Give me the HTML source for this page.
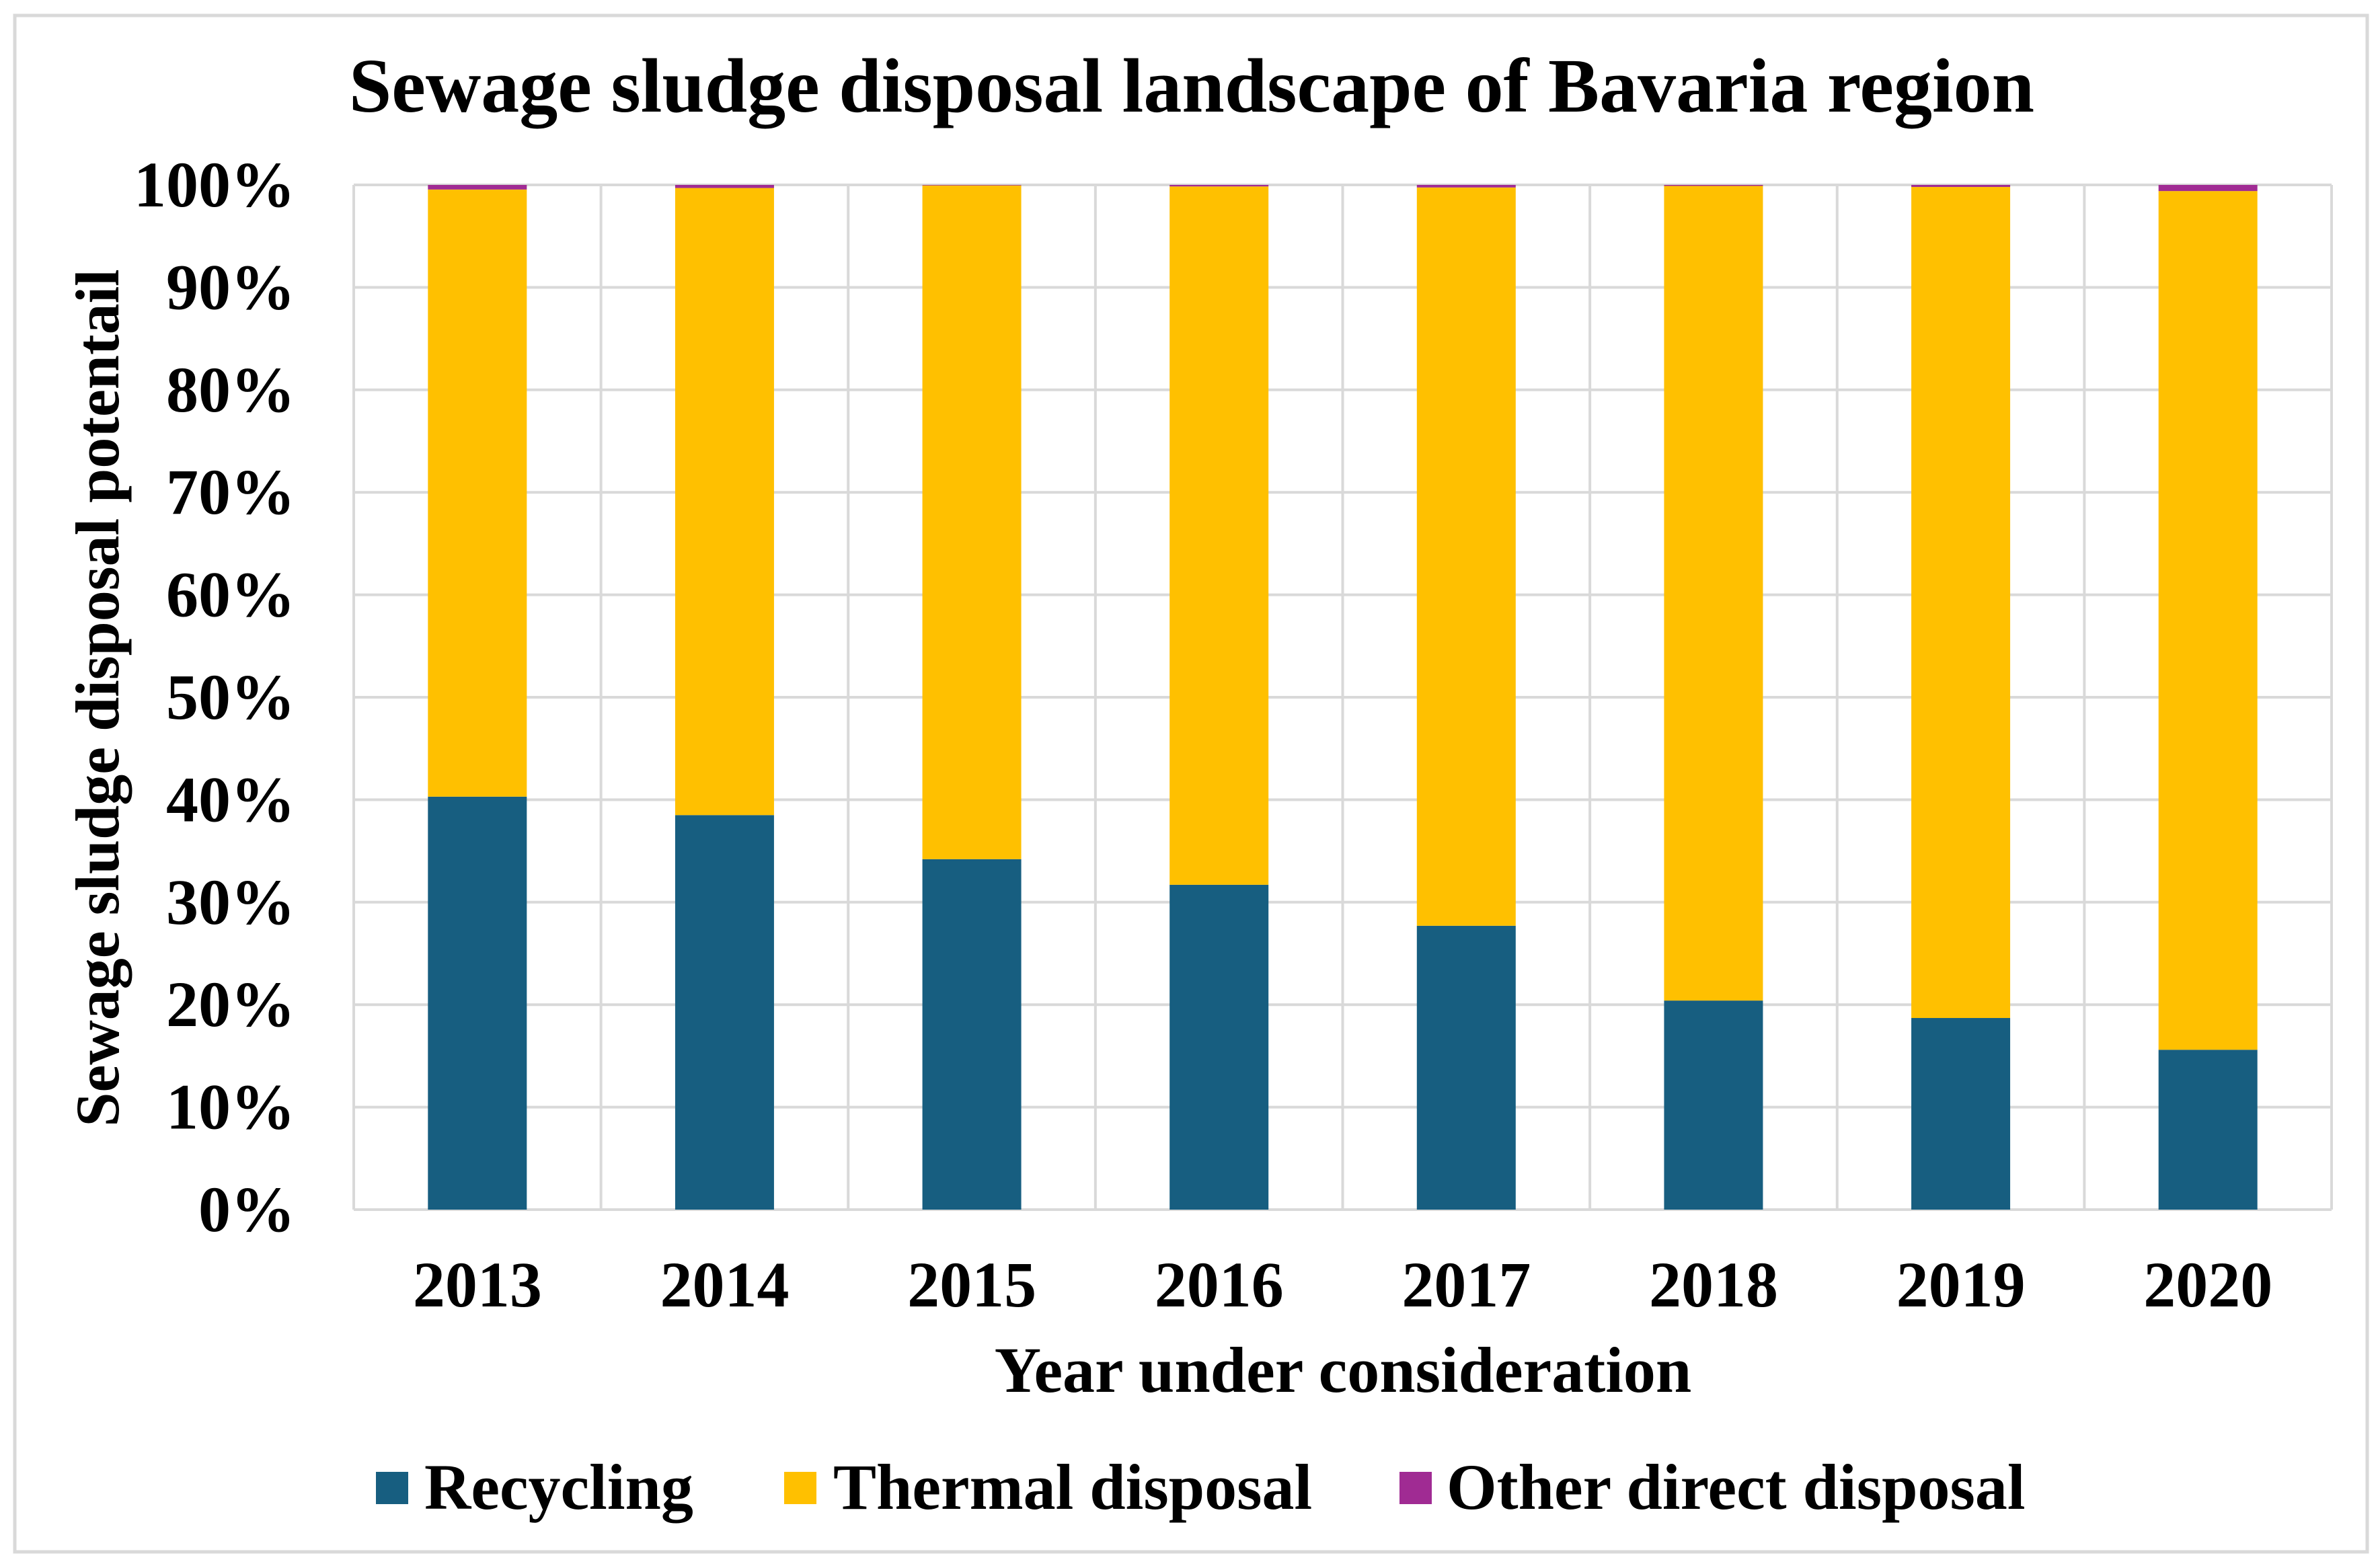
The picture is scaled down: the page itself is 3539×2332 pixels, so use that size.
<!DOCTYPE html>
<html><head><meta charset="utf-8"><style>
html,body{margin:0;padding:0;background:#fff}
svg{display:block}
text{font-family:"Liberation Serif",serif;font-weight:bold;fill:#000}
</style></head><body>
<svg id="chart" width="3539" height="2332" viewBox="0 0 3539 2332">
<rect x="22" y="23" width="3498" height="2285" fill="#fff" stroke="#d9d9d9" stroke-width="5"/>
<text x="1772" y="166" font-size="114" text-anchor="middle">Sewage sludge disposal landscape of Bavaria region</text>
<g id="grid"></g>
<g id="bars"></g>
<g id="yticks"></g>
<g id="xticks"></g>
<text x="1997" y="2070" font-size="96" text-anchor="middle">Year under consideration</text>
<text transform="translate(176,1038) rotate(-90)" font-size="92" text-anchor="middle">Sewage sludge disposal potentail</text>
<g>
<g><rect x="559" y="2189" width="48" height="48" fill="#175e80"/><text x="631" y="2244" font-size="96">Recycling</text></g>
<g><rect x="1166" y="2189" width="48" height="48" fill="#ffc000"/><text x="1239" y="2244" font-size="96">Thermal disposal</text></g>
<g><rect x="2081" y="2189" width="48" height="48" fill="#a02b93"/><text x="2151" y="2244" font-size="96">Other direct disposal</text></g>
</g>
</svg>
<script>
const categories = ["2013","2014","2015","2016","2017","2018","2019","2020"];
const recycling = [40.3,38.5,34.2,31.7,27.7,20.4,18.7,15.6];
const other = [0.45,0.3,0.05,0.15,0.25,0.1,0.2,0.6];
const yTickLabels = ["0%","10%","20%","30%","40%","50%","60%","70%","80%","90%","100%"];
const yTickValues = [0,10,20,30,40,50,60,70,80,90,100];

const NS="http://www.w3.org/2000/svg";
const L=526,R=3467,T=275,B=1799;
const band=(R-L)/categories.length, barW=147;
const y=v=>B-(v/100)*(B-T);
const xc=i=>L+band*(i+0.5);
function mk(tag,attrs,parent){const e=document.createElementNS(NS,tag);for(const k in attrs)e.setAttribute(k,attrs[k]);parent.appendChild(e);return e;}
const grid=document.getElementById('grid'),bars=document.getElementById('bars'),yt=document.getElementById('yticks'),xt=document.getElementById('xticks');
yTickValues.forEach((v,i)=>{
  const ln=mk('line',{x1:L,x2:R,y1:y(v),y2:y(v),stroke:'#d9d9d9','stroke-width':4},grid);
  
  
  const t=mk('text',{x:439,y:y(v)+32,'font-size':96,'text-anchor':'end'},yt);
  t.textContent=yTickLabels[i];
  
  
});
for(let i=0;i<=categories.length;i++){
  const ln=mk('line',{x1:L+band*i,x2:L+band*i,y1:T,y2:B,stroke:'#d9d9d9','stroke-width':4},grid);
  
  
}
categories.forEach((c,i)=>{
  const x0=xc(i)-barW/2;
  const r=recycling[i],o=other[i],th=100-r-o;
  const b1=mk('rect',{x:x0,y:y(r),width:barW,height:y(0)-y(r),fill:'#175e80'},bars);
  
  
  const b2=mk('rect',{x:x0,y:y(r+th),width:barW,height:y(r)-y(r+th),fill:'#ffc000'},bars);
  
  
  const b3=mk('rect',{x:x0,y:y(100),width:barW,height:y(r+th)-y(100),fill:'#a02b93'},bars);
  
  
  const t=mk('text',{x:xc(i),y:1943,'font-size':96,'text-anchor':'middle'},xt);
  t.textContent=c;
  
  
});
</script>
</body></html>
